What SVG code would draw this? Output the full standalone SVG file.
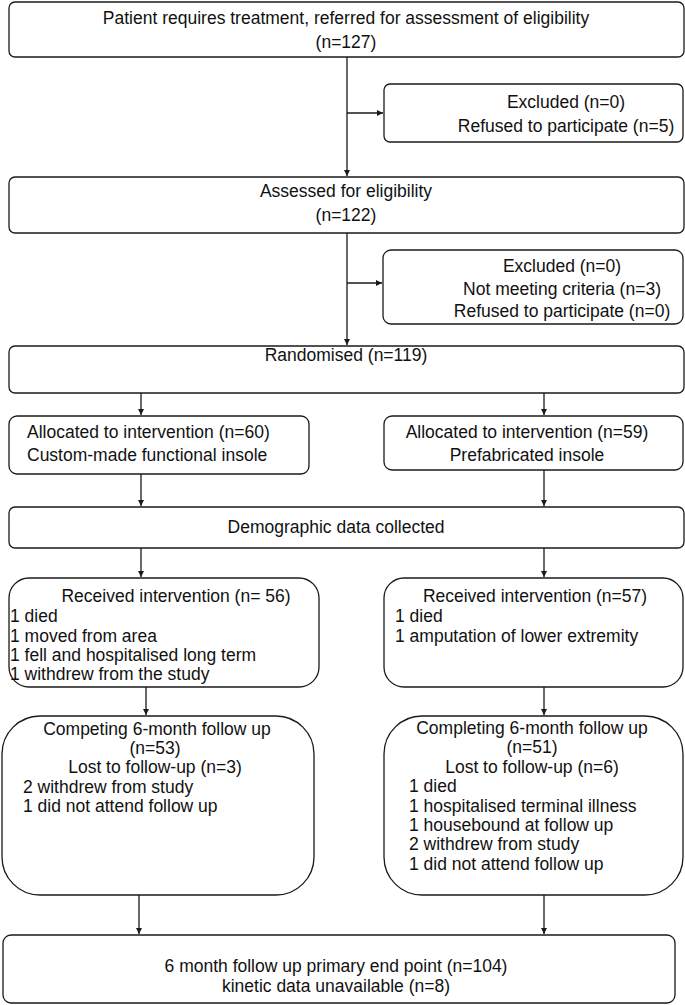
<svg xmlns="http://www.w3.org/2000/svg" width="685" height="1005" viewBox="0 0 685 1005">
<style>
.box{fill:#fff;stroke:#1a1a1a;stroke-width:1.3}
.t{font-family:"Liberation Sans",Arial,sans-serif;font-size:17.5px;fill:#111}
.c{text-anchor:middle}
.edge{stroke:#1a1a1a;stroke-width:1.3;fill:none;marker-end:url(#ah)}
</style>
<defs>
<marker id="ah" viewBox="0 0 8 8" refX="8" refY="4" markerWidth="6" markerHeight="6" markerUnits="userSpaceOnUse" orient="auto">
<path d="M0,0 L8,4 L0,8 z" fill="#1a1a1a"/>
</marker>
</defs>
<rect width="685" height="1005" fill="#fff"/>
<g id="connectors">
<path class="edge" d="M347,57 V176"/>
<path class="edge" d="M347,113 H383"/>
<path class="edge" d="M347,233 V345"/>
<path class="edge" d="M347,283 H382"/>
<path class="edge" d="M141,393 V415"/>
<path class="edge" d="M544,393 V415"/>
<path class="edge" d="M141,474 V506"/>
<path class="edge" d="M544,470 V506"/>
<path class="edge" d="M141,548 V577"/>
<path class="edge" d="M544,548 V577"/>
<path class="edge" d="M146,687 V715"/>
<path class="edge" d="M544,687 V715"/>
<path class="edge" d="M139,895 V934"/>
<path class="edge" d="M544,895 V934"/>
</g>
<g id="referred">
<rect class="box" x="9" y="2" width="675" height="55" rx="6"/>
<text class="t c" x="346" y="24">Patient requires treatment, referred for assessment of eligibility</text>
<text class="t c" x="346" y="48">(n=127)</text>
</g>
<g id="excluded1">
<rect class="box" x="384" y="84" width="299" height="58" rx="6"/>
<text class="t c" x="566" y="108">Excluded (n=0)</text>
<text class="t c" x="566" y="132">Refused to participate (n=5)</text>
</g>
<g id="assessed">
<rect class="box" x="9" y="177" width="675" height="56" rx="6"/>
<text class="t c" x="346" y="197">Assessed for eligibility</text>
<text class="t c" x="346" y="221">(n=122)</text>
</g>
<g id="excluded2">
<rect class="box" x="383" y="250" width="300" height="74" rx="8"/>
<text class="t c" x="562" y="272">Excluded (n=0)</text>
<text class="t c" x="562" y="295">Not meeting criteria (n=3)</text>
<text class="t c" x="562" y="317">Refused to participate (n=0)</text>
</g>
<g id="randomised">
<rect class="box" x="9" y="346" width="675" height="47" rx="6"/>
<text class="t c" x="346" y="361">Randomised (n=119)</text>
</g>
<g id="allocated-custom">
<rect class="box" x="9" y="416" width="300" height="58" rx="8"/>
<text class="t" x="27" y="438">Allocated to intervention (n=60)</text>
<text class="t" x="27" y="461">Custom-made functional insole</text>
</g>
<g id="allocated-prefab">
<rect class="box" x="384" y="416" width="299" height="54" rx="8"/>
<text class="t c" x="527" y="438">Allocated to intervention (n=59)</text>
<text class="t c" x="527" y="461">Prefabricated insole</text>
</g>
<g id="demographic">
<rect class="box" x="9" y="507" width="675" height="41" rx="6"/>
<text class="t c" x="336" y="533">Demographic data collected</text>
</g>
<g id="received-custom">
<rect class="box" x="9" y="578" width="310" height="109" rx="20"/>
<text class="t c" x="176" y="602">Received intervention (n= 56)</text>
<text class="t" x="10" y="622">1 died</text>
<text class="t" x="10" y="642">1 moved from area</text>
<text class="t" x="10" y="661">1 fell and hospitalised long term</text>
<text class="t" x="10" y="680">1 withdrew from the study</text>
</g>
<g id="received-prefab">
<rect class="box" x="384" y="578" width="299" height="109" rx="20"/>
<text class="t c" x="535" y="602">Received intervention (n=57)</text>
<text class="t" x="395" y="622">1 died</text>
<text class="t" x="395" y="642">1 amputation of lower extremity</text>
</g>
<g id="followup-custom">
<rect class="box" x="2" y="716" width="312" height="179" rx="38"/>
<text class="t c" x="157" y="735">Competing 6-month follow up</text>
<text class="t c" x="155" y="754">(n=53)</text>
<text class="t c" x="155" y="773">Lost to follow-up (n=3)</text>
<text class="t" x="23" y="793">2 withdrew from study</text>
<text class="t" x="23" y="812">1 did not attend follow up</text>
</g>
<g id="followup-prefab">
<rect class="box" x="384" y="716" width="299" height="179" rx="38"/>
<text class="t c" x="532" y="734">Completing 6-month follow up</text>
<text class="t c" x="532" y="753">(n=51)</text>
<text class="t c" x="532" y="773">Lost to follow-up (n=6)</text>
<text class="t" x="409" y="792">1 died</text>
<text class="t" x="409" y="812">1 hospitalised terminal illness</text>
<text class="t" x="409" y="831">1 housebound at follow up</text>
<text class="t" x="409" y="850">2 withdrew from study</text>
<text class="t" x="409" y="870">1 did not attend follow up</text>
</g>
<g id="endpoint">
<rect class="box" x="3" y="935" width="672" height="68" rx="8"/>
<text class="t c" x="336" y="972">6 month follow up primary end point (n=104)</text>
<text class="t c" x="336" y="992">kinetic data unavailable (n=8)</text>
</g>
</svg>
